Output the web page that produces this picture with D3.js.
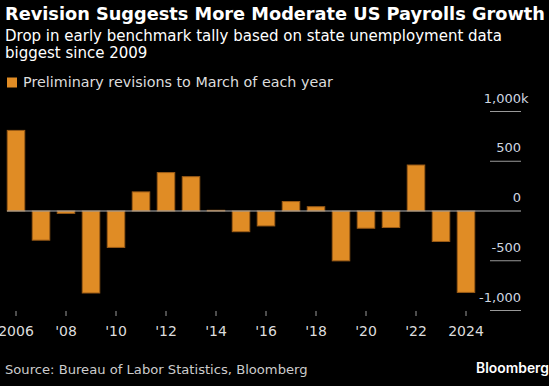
<!DOCTYPE html>
<html><head><meta charset="utf-8">
<script src="https://cdn.jsdelivr.net/npm/d3@7"></script>
<style>html,body{margin:0;padding:0;background:#000;}svg{display:block;}</style>
</head><body>
<script>
const years = [2006,2007,2008,2009,2010,2011,2012,2013,2014,2015,2016,2017,2018,2019,2020,2021,2022,2023,2024];
const revisions = [810,-293,-24,-824,-366,192,386,345,7,-208,-150,95,43,-501,-173,-166,462,-306,-818];
const yTicks = [1000,500,0,-500,-1000];
const yTickLabels = ["1,000","500","0","-500","-1,000"];
const xTickYears = [2006,2008,2010,2012,2014,2016,2018,2020,2022,2024];
const xTickLabels = ["2006","'08","'10","'12","'14","'16","'18","'20","'22","2024"];

const W = 549, H = 386;
const FONT = "'DejaVu Sans', Verdana, sans-serif";
const svg = d3.select("body").append("svg").attr("width", W).attr("height", H);
svg.append("rect").attr("width", W).attr("height", H).attr("fill", "#000");

function fitText(sel, target){
  const n = sel.node(); const fs = parseFloat(sel.attr("font-size"));
  const len = n.getComputedTextLength();
  sel.attr("font-size", (fs*target/len).toFixed(2));
}

const title = svg.append("text").attr("x", 5).attr("y", 20).attr("fill", "#fff")
  .attr("font-family", FONT).attr("font-weight", "bold").attr("font-size", 18)
  .text("Revision Suggests More Moderate US Payrolls Growth");
fitText(title, 540);
const s1 = svg.append("text").attr("x", 5).attr("y", 41).attr("fill", "#fff")
  .attr("font-family", FONT).attr("font-size", 14)
  .text("Drop in early benchmark tally based on state unemployment data");
fitText(s1, 497);
svg.append("text").attr("x", 5).attr("y", 58).attr("fill", "#fff")
  .attr("font-family", FONT).attr("font-size", s1.attr("font-size"))
  .text("biggest since 2009");

svg.append("rect").attr("x", 7).attr("y", 77.5).attr("width", 10).attr("height", 10)
  .attr("fill", "#e08c25");
const lg = svg.append("text").attr("x", 23).attr("y", 87).attr("fill", "#ddd")
  .attr("font-family", FONT).attr("font-size", 14)
  .text("Preliminary revisions to March of each year");
fitText(lg, 310);

const x = d3.scaleBand().domain(years).range([3.5, 478.5]).paddingInner(0.3).paddingOuter(0.15);
const y = d3.scaleLinear().domain([-1000, 1000]).range([310.5, 111.5]);

// bars
svg.append("g").selectAll("rect").data(years).join("rect")
  .attr("x", d => x(d))
  .attr("width", x.bandwidth())
  .attr("y", (d,i) => y(Math.max(0, revisions[i])))
  .attr("height", (d,i) => Math.abs(y(revisions[i]) - y(0)))
  .attr("fill", "#e08c25")
  .attr("stroke", "#9c5c17").attr("stroke-width", 1);

// y axis (right)
const yg = svg.append("g");
yTicks.forEach((t,i) => {
  const yy = y(t);
  if (t === 0) {
    yg.append("line").attr("x1", 7).attr("x2", 521).attr("y1", yy).attr("y2", yy)
      .attr("stroke", "#b4b4b4").attr("stroke-width", 1);
  } else {
    yg.append("line").attr("x1", 490).attr("x2", 521).attr("y1", yy).attr("y2", yy)
      .attr("stroke", "#999").attr("stroke-width", 1);
  }
  yg.append("text").attr("x", 521).attr("y", yy - 9).attr("text-anchor", "end")
    .attr("fill", "#cfd6e0").attr("font-family", FONT).attr("font-size", 13)
    .text(yTickLabels[i]);
  if (i === 0) {
    yg.append("text").attr("x", 521).attr("y", yy - 9).attr("fill", "#cfd6e0")
      .attr("font-family", FONT).attr("font-size", 13).text("k");
  }
});
// x axis ticks
const xg = svg.append("g");
xTickYears.forEach((yr,i) => {
  const cx = x(yr) + x.bandwidth()/2;
  xg.append("line").attr("x1", cx).attr("x2", cx).attr("y1", 311).attr("y2", 316)
    .attr("stroke", "#999").attr("stroke-width", 1);
  xg.append("text").attr("x", cx).attr("y", 336).attr("text-anchor", "middle")
    .attr("fill", "#ddd").attr("font-family", FONT).attr("font-size", 14)
    .text(xTickLabels[i]);
});

const src = svg.append("text").attr("x", 5).attr("y", 374).attr("fill", "#ccc")
  .attr("font-family", FONT).attr("font-size", 13)
  .text("Source: Bureau of Labor Statistics, Bloomberg");
fitText(src, 303);
const bb = svg.append("text").attr("x", 549).attr("y", 373).attr("text-anchor", "end")
  .attr("fill", "#fff").attr("font-family", "Inter, 'Open Sans', sans-serif").attr("font-weight", 600).attr("font-size", 13)
  .text("Bloomberg");
fitText(bb, 73);
</script>
</body></html>
